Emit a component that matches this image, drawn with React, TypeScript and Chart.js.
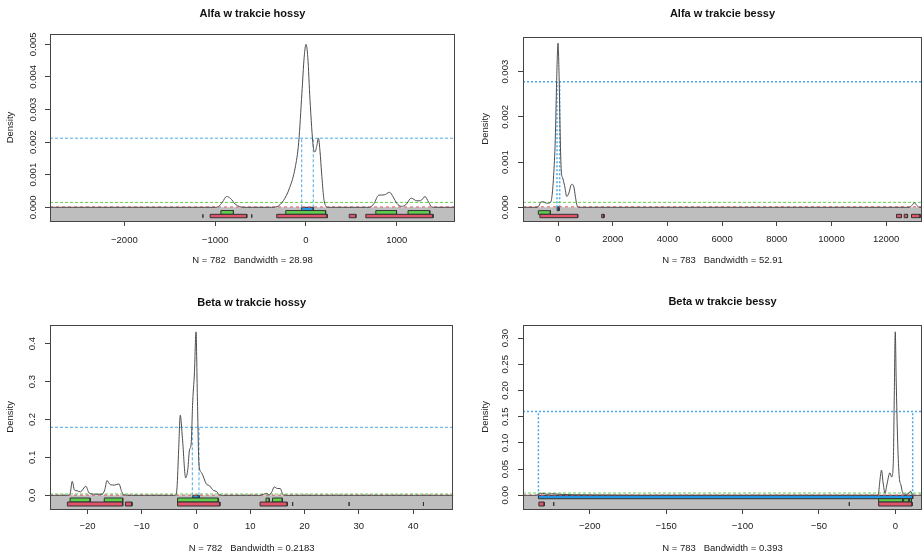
import React, { useEffect, useRef } from 'react';
import { Chart, registerables } from 'chart.js';

Chart.register(...registerables);

type Pair = [number, number];

// ---------- Panel 1: Alfa w trakcie hossy ----------
const p1Title = 'Alfa w trakcie hossy';
const p1Sub = 'N = 782   Bandwidth = 28.98';
const p1XRange: Pair = [-2819, 1641];
const p1YRange: Pair = [-0.00042, 0.005316];
const p1XTicks = [-2000, -1000, 0, 1000];
const p1YTicks = [0, 0.001, 0.002, 0.003, 0.004, 0.005];
const p1Curve: Pair[] = [
  [-2819, 0], [-1000, 0], [-960, 0.00003], [-920, 0.00016], [-875, 0.00033], [-830, 0.00027],
  [-780, 0.0001], [-730, 0.00002], [-680, 0], [-380, 0], [-320, 0.00002], [-250, 0.0002],
  [-180, 0.0006], [-120, 0.0012], [-80, 0.002], [-45, 0.0035], [-20, 0.0046], [0, 0.005],
  [20, 0.0046], [44, 0.0033], [80, 0.00186], [100, 0.0017], [120, 0.0019], [137, 0.00212],
  [155, 0.0017], [172, 0.00105], [195, 0.0003], [215, 0.00005], [240, 0], [700, 0],
  [750, 0.00012], [800, 0.00037], [860, 0.00038], [920, 0.00046], [960, 0.00032], [1000, 0.00012],
  [1050, 0.00003], [1100, 0.00008], [1160, 0.00028], [1220, 0.0002], [1260, 0.0002], [1310, 0.00033],
  [1350, 0.00016], [1385, 0.00001], [1420, 0], [1641, 0],
];
const p1Red: Pair[] = [[-1135, -1135], [-1055, -652], [-597, -597], [-322, 234], [476, 549], [659, 1399]];
const p1Green: Pair[] = [[-937, -799], [-223, 216], [769, 997], [1124, 1363]];
const p1Blue: Pair[] = [[-47, 80]];
const p1BlueRow: Pair = [0, -0.0001];
const p1GreenRow: Pair = [-0.0001, -0.000215];
const p1RedRow: Pair = [-0.000215, -0.00032];
const p1BlueLevel = 0.00212;
const p1BlueX = [-47, 80];
const p1GreenLevel = 0.00015;
const p1PinkLevel = 0.00001;

// ---------- Panel 2: Alfa w trakcie bessy ----------
const p2Title = 'Alfa w trakcie bessy';
const p2Sub = 'N = 783   Bandwidth = 52.91';
const p2XRange: Pair = [-1280, 13309];
const p2YRange: Pair = [-0.000303, 0.003774];
const p2XTicks = [0, 2000, 4000, 6000, 8000, 10000, 12000];
const p2YTicks = [0, 0.001, 0.002, 0.003];
const p2Curve: Pair[] = [
  [-1280, 0], [-760, 0], [-700, 0.00003], [-620, 0.00012], [-540, 0.00012], [-460, 0.0001],
  [-380, 0.00009], [-300, 0.0001], [-230, 0.0002], [-160, 0.0007], [-100, 0.0015], [-50, 0.0028],
  [0, 0.00363], [40, 0.0029], [80, 0.0016], [120, 0.0008], [170, 0.00065], [240, 0.00048],
  [320, 0.00024], [400, 0.00032], [470, 0.00048], [520, 0.00051], [580, 0.00045], [640, 0.00022],
  [700, 0.00003], [760, 0], [12850, 0], [12950, 0.00005], [13030, 0.0001], [13120, 0.00004],
  [13220, 0], [13309, 0],
];
const p2Red: Pair[] = [[-660, 720], [1597, 1682], [12377, 12560], [12658, 12780], [12925, 13240]];
const p2Green: Pair[] = [[-720, -280]];
const p2Blue: Pair[] = [[-30, 40]];
const p2BlueRow: Pair = [0.00001, -0.000075];
const p2GreenRow: Pair = [-0.000075, -0.000155];
const p2RedRow: Pair = [-0.000155, -0.00023];
const p2BlueLevel = 0.00278;
const p2BlueX = [-37, 62];
const p2GreenLevel = 0.00011;
const p2PinkLevel = 0.00001;

// ---------- Panel 3: Beta w trakcie hossy ----------
const p3Title = 'Beta w trakcie hossy';
const p3Sub = 'N = 782   Bandwidth = 0.2183';
const p3XRange: Pair = [-26.9, 47.4];
const p3YRange: Pair = [-0.0361, 0.45];
const p3XTicks = [-20, -10, 0, 10, 20, 30, 40];
const p3YTicks = [0, 0.1, 0.2, 0.3, 0.4];
const p3Curve: Pair[] = [
  [-26.9, 0], [-23.6, 0], [-23.2, 0.004], [-22.8, 0.037], [-22.4, 0.014], [-21.9, 0.012],
  [-21.3, 0.009], [-20.3, 0.024], [-19.7, 0.006], [-18.6, 0.003], [-17.3, 0.003], [-16.8, 0.015],
  [-16.4, 0.039], [-15.8, 0.028], [-15.0, 0.027], [-14.2, 0.03], [-13.7, 0.01], [-13.3, 0.001],
  [-12, 0], [-3.8, 0], [-3.5, 0.02], [-3.2, 0.12], [-2.9, 0.211], [-2.5, 0.15], [-1.9, 0.046],
  [-1.5, 0.07], [-1.2, 0.12], [-0.9, 0.135], [-0.6, 0.25], [-0.3, 0.32], [0, 0.431], [0.25, 0.26],
  [0.55, 0.08], [1.0, 0.06], [1.9, 0.03], [2.5, 0.025], [3.2, 0.013], [3.8, 0.01], [4.2, 0.002],
  [5, 0], [11.8, 0], [12.5, 0.003], [13, 0.005], [13.5, 0.001], [14, 0.01], [14.4, 0.022],
  [15, 0.018], [15.5, 0.018], [16, 0.002], [16.5, 0], [47.4, 0],
];
const p3Red: Pair[] = [[-23.7, -13.5], [-13.0, -11.8], [-3.4, 4.4], [11.8, 16.8], [17.8, 17.8], [28.2, 28.2], [41.9, 41.9]];
const p3Green: Pair[] = [[-23.2, -19.5], [-16.9, -13.5], [-3.4, 4.1], [12.9, 13.5], [14.1, 15.9]];
const p3Blue: Pair[] = [[-0.6, 0.55]];
const p3BlueRow: Pair = [0, -0.0071];
const p3GreenRow: Pair = [-0.0071, -0.0177];
const p3RedRow: Pair = [-0.0177, -0.0282];
const p3BlueLevel = 0.1794;
const p3BlueX = [-0.68, 0.55];
const p3GreenLevel = 0.0034;
const p3PinkLevel = 0.0005;

// ---------- Panel 4: Beta w trakcie bessy ----------
const p4Title = 'Beta w trakcie bessy';
const p4Sub = 'N = 783   Bandwidth = 0.393';
const p4XRange: Pair = [-243.7, 17.5];
const p4YRange: Pair = [-0.0261, 0.3256];
const p4XTicks = [-200, -150, -100, -50, 0];
const p4YTicks = [0, 0.05, 0.1, 0.15, 0.2, 0.25, 0.3];
const p4Curve: Pair[] = [
  [-243.7, 0], [-235, 0], [-233.5, 0.002], [-231, 0.004], [-228, 0.002], [-225, 0.003],
  [-220, 0.002], [-210, 0.001], [-190, 0.0005], [-170, 0], [-12, 0], [-11, 0.003], [-10, 0.03],
  [-9, 0.048], [-8, 0.025], [-6.7, 0.004], [-5.5, 0.02], [-3.5, 0.043], [-2.4, 0.035],
  [-1.3, 0.061], [-0.6, 0.2], [0, 0.312], [0.6, 0.22], [1.6, 0.099], [2.6, 0.035], [3.7, 0.02],
  [4.8, 0.005], [6, 0.002], [8.5, 0.003], [10, 0.008], [11.4, 0], [17.5, 0],
];
const p4Red: Pair[] = [[-10.9, 11], [-233.3, -229.8], [-223.6, -223.6], [-30.1, -30.1]];
const p4Green: Pair[] = [[-10.9, 4.8], [5.5, 8.8], [9.2, 10.6]];
const p4Blue: Pair[] = [[-233.6, 11.4]];
const p4BlueRow: Pair = [0, -0.0065];
const p4GreenRow: Pair = [-0.0065, -0.0128];
const p4RedRow: Pair = [-0.0128, -0.0204];
const p4BlueLevel = 0.16;
const p4BlueX = [-233.6, 11.4];
const p4GreenLevel = 0.0044;
const p4PinkLevel = 0.0005;

// ---------- styling ----------
const FONT = "'Liberation Sans', Arial, Helvetica, sans-serif";
const TEXT = '#222';
const AXIS = '#444';
const GRAY = '#BEBEBE';
const RED = '#DF536B';
const GREEN = '#61D04F';
const BLUE = '#2297E6';
const BLUE_LINE = '#4aa8e8';
const CURVE = '#4d4d4d';

interface PanelData {
  title: string; sub: string; xRange: Pair; yRange: Pair; xTicks: number[]; yTicks: number[];
  yDigits: number; curve: Pair[]; red: Pair[]; green: Pair[]; blue: Pair[];
  redRow: Pair; greenRow: Pair; blueRow: Pair; blueLevel: number; blueX: number[];
  greenLevel: number; pinkLevel: number;
}
interface PanelLayout {
  left: number; top: number; w: number; h: number; l: number; r: number; t: number; b: number;
  titleY: number; yLabX: number; yTickX: number; xTickY: number; subY: number; dot: number[]; blueW: number;
}

const panels: { d: PanelData; L: PanelLayout }[] = [
  {
    d: { title: p1Title, sub: p1Sub, xRange: p1XRange, yRange: p1YRange, xTicks: p1XTicks, yTicks: p1YTicks, yDigits: 3,
      curve: p1Curve, red: p1Red, green: p1Green, blue: p1Blue, redRow: p1RedRow, greenRow: p1GreenRow, blueRow: p1BlueRow,
      blueLevel: p1BlueLevel, blueX: p1BlueX, greenLevel: p1GreenLevel, pinkLevel: p1PinkLevel },
    L: { left: 0, top: 0, w: 462, h: 278, l: 50, r: 455, t: 34, b: 221, titleY: 14.3, yLabX: 10, yTickX: 33, xTickY: 240, subY: 260.7, dot: [3, 2], blueW: 1 },
  },
  {
    d: { title: p2Title, sub: p2Sub, xRange: p2XRange, yRange: p2YRange, xTicks: p2XTicks, yTicks: p2YTicks, yDigits: 3,
      curve: p2Curve, red: p2Red, green: p2Green, blue: p2Blue, redRow: p2RedRow, greenRow: p2GreenRow, blueRow: p2BlueRow,
      blueLevel: p2BlueLevel, blueX: p2BlueX, greenLevel: p2GreenLevel, pinkLevel: p2PinkLevel },
    L: { left: 462, top: 0, w: 462, h: 278, l: 61, r: 460, t: 36.7, b: 221, titleY: 14.3, yLabX: 23.3, yTickX: 43.3, xTickY: 238.5, subY: 260.7, dot: [2, 2], blueW: 1.5 },
  },
  {
    d: { title: p3Title, sub: p3Sub, xRange: p3XRange, yRange: p3YRange, xTicks: p3XTicks, yTicks: p3YTicks, yDigits: 1,
      curve: p3Curve, red: p3Red, green: p3Green, blue: p3Blue, redRow: p3RedRow, greenRow: p3GreenRow, blueRow: p3BlueRow,
      blueLevel: p3BlueLevel, blueX: p3BlueX, greenLevel: p3GreenLevel, pinkLevel: p3PinkLevel },
    L: { left: 0, top: 278, w: 462, h: 278, l: 50, r: 453.3, t: 46.7, b: 231, titleY: 25, yLabX: 10, yTickX: 32.3, xTickY: 248, subY: 270, dot: [3, 2], blueW: 1 },
  },
  {
    d: { title: p4Title, sub: p4Sub, xRange: p4XRange, yRange: p4YRange, xTicks: p4XTicks, yTicks: p4YTicks, yDigits: 2,
      curve: p4Curve, red: p4Red, green: p4Green, blue: p4Blue, redRow: p4RedRow, greenRow: p4GreenRow, blueRow: p4BlueRow,
      blueLevel: p4BlueLevel, blueX: p4BlueX, greenLevel: p4GreenLevel, pinkLevel: p4PinkLevel },
    L: { left: 462, top: 278, w: 462, h: 278, l: 61, r: 460, t: 46.7, b: 231, titleY: 24, yLabX: 23.3, yTickX: 43.3, xTickY: 248.3, subY: 270.7, dot: [2, 2], blueW: 1.5 },
  },
];

const fmtX = (v: number) => (v < 0 ? '\u2212' + Math.abs(v) : String(v));

function rectPts(a: number, b: number, row: Pair) {
  return [
    { x: a, y: row[0] }, { x: b, y: row[0] }, { x: b, y: row[1] }, { x: a, y: row[1] }, { x: a, y: row[0] },
  ];
}

function buildDatasets(d: PanelData, L: PanelLayout) {
  const base = { pointRadius: 0, pointHoverRadius: 0, tension: 0, fill: false as any };
  const ds: any[] = [];
  ds.push({ ...base, data: [{ x: d.xRange[0], y: 0 }, { x: d.xRange[1], y: 0 }], borderColor: 'rgba(0,0,0,0)',
    borderWidth: 0, backgroundColor: GRAY, fill: 'start', order: 100 });
  const rects = (pairs: Pair[], row: Pair, color: string) => {
    pairs.forEach(([a, b]) => ds.push({ ...base, data: rectPts(a, b, row), fill: 'shape', backgroundColor: color,
      borderColor: '#333', borderWidth: 1, order: 50 }));
  };
  rects(d.red, d.redRow, RED);
  rects(d.green, d.greenRow, GREEN);
  rects(d.blue, d.blueRow, BLUE);
  const hline = (y: number, color: string, dash: number[], w: number) =>
    ds.push({ ...base, data: [{ x: d.xRange[0], y }, { x: d.xRange[1], y }], borderColor: color, borderWidth: w, borderDash: dash, order: 20 });
  hline(d.pinkLevel, RED, [3, 3], 1);
  hline(d.greenLevel, GREEN, [3, 2], 1);
  hline(d.blueLevel, BLUE_LINE, L.dot, L.blueW);
  d.blueX.forEach((x) => ds.push({ ...base, data: [{ x, y: 0 }, { x, y: d.blueLevel }], borderColor: BLUE_LINE,
    borderWidth: L.blueW, borderDash: L.dot, order: 20 }));
  ds.push({ ...base, data: d.curve.map(([x, y]) => ({ x, y })), borderColor: CURVE, borderWidth: 1,
    cubicInterpolationMode: 'monotone', order: 1 });
  return ds;
}

function Panel({ d, L }: { d: PanelData; L: PanelLayout }) {
  const ref = useRef<HTMLCanvasElement | null>(null);
  useEffect(() => {
    if (!ref.current) return;
    const tickLen = 5;
    const boxPlugin = {
      id: 'rbox',
      afterDatasetsDraw(chart: any) {
        const { ctx, chartArea: a } = chart;
        ctx.save();
        ctx.strokeStyle = AXIS;
        ctx.lineWidth = 1;
        ctx.strokeRect(Math.round(a.left) + 0.5, Math.round(a.top) + 0.5, Math.round(a.right - a.left) - 1, Math.round(a.bottom - a.top));
        ctx.restore();
      },
      afterDraw(chart: any) {
        const { ctx } = chart;
        const s = chart.scales.y;
        ctx.save();
        ctx.font = `9.5px ${FONT}`;
        ctx.fillStyle = TEXT;
        ctx.textAlign = 'center';
        ctx.textBaseline = 'middle';
        s.ticks.forEach((t: any) => {
          const y = s.getPixelForValue(t.value);
          ctx.save();
          ctx.translate(L.yTickX, y);
          ctx.rotate(-Math.PI / 2);
          ctx.fillText(t.value.toFixed(d.yDigits), 0, 0);
          ctx.restore();
        });
        ctx.restore();
      },
    };
    const chart = new Chart(ref.current, {
      type: 'line',
      data: { datasets: buildDatasets(d, L) },
      options: {
        animation: false,
        responsive: false,
        devicePixelRatio: 1,
        events: [],
        layout: { padding: { left: 0, right: L.w - L.r, top: 0, bottom: 0 } },
        plugins: {
          legend: { display: false },
          tooltip: { enabled: false },
          title: {
            display: true, text: d.title, color: '#111', fullSize: false,
            font: { family: FONT, size: 11, weight: 'bold' },
            padding: { top: L.titleY - 6.6, bottom: L.t - L.titleY - 6.6 },
          },
        },
        scales: {
          x: {
            type: 'linear', min: d.xRange[0], max: d.xRange[1],
            afterBuildTicks: (s: any) => { s.ticks = d.xTicks.map((v) => ({ value: v })); },
            afterFit: (s: any) => { s.height = L.h - L.b; },
            grid: { drawOnChartArea: false, drawTicks: true, tickLength: tickLen, color: AXIS, lineWidth: 1 },
            border: { display: false },
            ticks: { font: { family: FONT, size: 9.5 }, color: TEXT, padding: L.xTickY - 5.2 - L.b - tickLen,
              maxRotation: 0, minRotation: 0, autoSkip: false, callback: (v: any) => fmtX(Number(v)) },
            title: { display: true, text: d.sub, color: TEXT, font: { family: FONT, size: 9.5 },
              padding: { top: 0, bottom: L.h - L.subY - 5.7 } },
          },
          y: {
            type: 'linear', min: d.yRange[0], max: d.yRange[1],
            afterBuildTicks: (s: any) => { s.ticks = d.yTicks.map((v) => ({ value: v })); },
            afterFit: (s: any) => { s.width = L.l; },
            grid: { drawOnChartArea: false, drawTicks: true, tickLength: tickLen, color: AXIS, lineWidth: 1 },
            border: { display: false },
            ticks: { display: false },
            title: { display: true, text: 'Density', color: TEXT, font: { family: FONT, size: 9.5 },
              padding: { top: L.yLabX - 5.7, bottom: 0 } },
          },
        },
      } as any,
      plugins: [boxPlugin],
    });
    return () => chart.destroy();
  }, []);
  return (
    <canvas ref={ref} width={L.w} height={L.h}
      style={{ position: 'absolute', left: L.left, top: L.top, width: L.w, height: L.h }} />
  );
}

export default function App() {
  return (
    <div style={{ position: 'absolute', left: 0, top: 0, width: 924, height: 556, background: '#fff', overflow: 'hidden' }}>
      {panels.map((p, i) => <Panel key={i} d={p.d} L={p.L} />)}
    </div>
  );
}
